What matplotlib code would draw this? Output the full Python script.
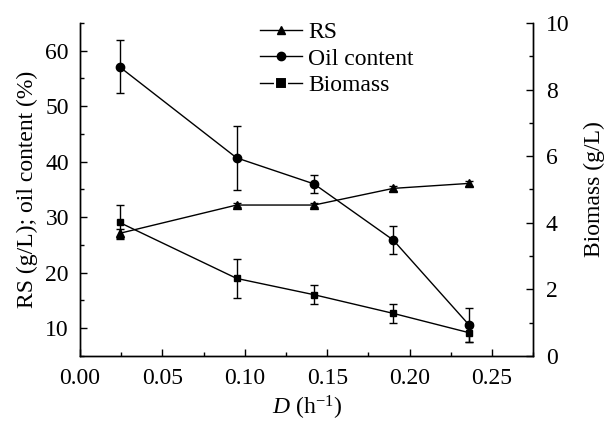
import matplotlib
matplotlib.use("Agg")
import matplotlib.pyplot as plt
from matplotlib.lines import Line2D
from matplotlib.ticker import MultipleLocator

plt.rcParams['font.family'] = ['Liberation Serif', 'DejaVu Serif']
plt.rcParams['mathtext.fontset'] = 'custom'
plt.rcParams['mathtext.rm'] = 'Liberation Serif'
plt.rcParams['mathtext.it'] = 'Liberation Serif:italic'

# Data
D = [0.024, 0.095, 0.142, 0.190, 0.236]
rs = [27.1, 32.2, 32.2, 35.2, 36.1]
rs_err = [0.8, 0.3, 0.3, 0.4, 0.4]
oil = [57.1, 40.7, 36.0, 25.9, 10.6]
oil_err = [4.8, 5.8, 1.7, 2.6, 3.1]
biomass = [4.01, 2.33, 1.84, 1.28, 0.70]
biomass_err = [0.51, 0.58, 0.28, 0.28, 0.28]

labels = ['RS', 'Oil content', 'Biomass']
x_ticks = [0.00, 0.05, 0.10, 0.15, 0.20, 0.25]

fs = 17
fig = plt.figure(figsize=(6.07, 4.22), dpi=100)
ax = fig.add_axes([0.1318, 0.1564, 0.8786 - 0.1318, 0.9455 - 0.1564])
ax2 = ax.twinx()

lw = 1.0
ekw = dict(color='black', lw=lw, capsize=3, capthick=lw, elinewidth=lw)
ax.errorbar(D, rs, yerr=rs_err, marker='^', ms=6, **ekw)
ax.errorbar(D, oil, yerr=oil_err, marker='o', ms=6, **ekw)
ax2.errorbar(D, biomass, yerr=biomass_err, marker='s', ms=5, **ekw)

ax.set_xlim(0, 0.275)
ax.set_ylim(5, 65)
ax2.set_ylim(0, 10)
ax.set_xticks(x_ticks)
ax.set_xticklabels([f"{t:.2f}" for t in x_ticks])
ax.xaxis.set_minor_locator(MultipleLocator(0.025))
ax.yaxis.set_major_locator(MultipleLocator(10))
ax.yaxis.set_minor_locator(MultipleLocator(5))
ax2.yaxis.set_major_locator(MultipleLocator(2))
ax2.yaxis.set_minor_locator(MultipleLocator(1))
ax.set_yticks([10, 20, 30, 40, 50, 60])

for a in (ax, ax2):
    a.spines['top'].set_visible(False)
    for s in a.spines.values():
        s.set_linewidth(1.0)
    a.tick_params(which='major', direction='in', length=5, width=1.0, labelsize=fs)
    a.tick_params(which='minor', direction='in', length=3, width=1.0)
ax.tick_params(axis='x', pad=9)
ax.tick_params(axis='y', pad=8)
ax2.tick_params(axis='y', pad=9)

ax.set_xlabel(r'$\mathit{D}$ (h$^{-1}$)', fontsize=fs, labelpad=3)
ax.set_ylabel('RS (g/L); oil content (%)', fontsize=fs, labelpad=5)
ax2.set_ylabel('Biomass (g/L)', fontsize=fs, labelpad=10)

handles = [
    Line2D([], [], color='black', lw=lw, marker='^', ms=6),
    Line2D([], [], color='black', lw=lw, marker='o', ms=6),
    Line2D([], [], color='black', lw=lw, marker='s', ms=8, mec='white', mew=1.5, mfc='black'),
]
ax2.legend(handles, labels, loc='upper left', bbox_to_anchor=(0.397, 1.005),
           frameon=False, fontsize=fs, borderpad=0, borderaxespad=0,
           handlelength=1.8, handletextpad=0.25, labelspacing=0.22)

fig.savefig('out.png', dpi=100)
